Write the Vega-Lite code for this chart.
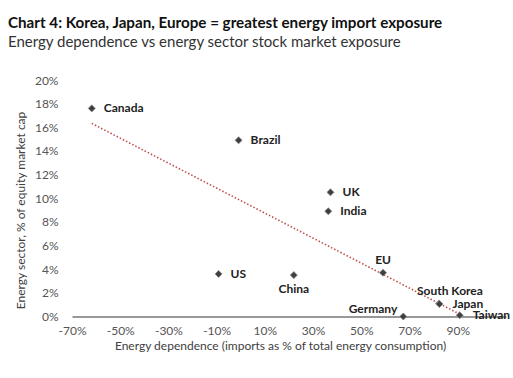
{
  "$schema": "https://vega.github.io/schema/vega-lite/v6.json",
  "autosize": "none",
  "width": 434,
  "height": 236.5,
  "padding": {"left": 72, "top": 80, "right": 7, "bottom": 61.5},
  "background": "white",
  "title": {
    "text": "Chart 4: Korea, Japan, Europe = greatest energy import exposure",
    "subtitle": "Energy dependence vs energy sector stock market exposure",
    "anchor": "start",
    "frame": "group",
    "dx": -64,
    "offset": 24,
    "font": "Lato",
    "fontSize": 15.2,
    "fontWeight": "bold",
    "color": "#111111",
    "subtitleFont": "Lato",
    "subtitleFontSize": 15,
    "subtitleColor": "#333333",
    "subtitlePadding": 4
  },
  "config": {
    "view": {"stroke": null},
    "axis": {
      "labelFont": "Lato",
      "labelFontSize": 12,
      "labelColor": "#555555",
      "titleFont": "Lato",
      "titleFontSize": 12,
      "titleFontWeight": "normal",
      "titleColor": "#404040",
      "grid": false,
      "ticks": false,
      "labelOverlap": false,
      "labelFlush": false
    }
  },
  "datasets": {
    "pts": [
      {"country": "Canada", "dep": -61.8, "energy": 17.6},
      {"country": "Brazil", "dep": -0.9, "energy": 14.9},
      {"country": "UK", "dep": 37.2, "energy": 10.5},
      {"country": "India", "dep": 36.3, "energy": 8.9},
      {"country": "US", "dep": -9.2, "energy": 3.6},
      {"country": "China", "dep": 22.0, "energy": 3.5},
      {"country": "EU", "dep": 59.0, "energy": 3.7},
      {"country": "South Korea", "dep": 82.2, "energy": 1.1},
      {"country": "Japan", "dep": 82.4, "energy": 1.05},
      {"country": "Germany", "dep": 67.4, "energy": 0.0},
      {"country": "Taiwan", "dep": 90.8, "energy": 0.1}
    ],
    "trend": [
      {"dep": -61.8, "energy": 16.33},
      {"dep": 90.8, "energy": 0.2}
    ]
  },
  "layer": [
    {
      "data": {"name": "trend"},
      "mark": {"type": "line", "color": "#c0504d", "strokeWidth": 1.6, "strokeDash": [1.5, 2]},
      "encoding": {
        "x": {
          "field": "dep", "type": "quantitative",
          "scale": {"domain": [-70, 110], "nice": false, "zero": false},
          "axis": {
            "values": [-70, -50, -30, -10, 10, 30, 50, 70, 90],
            "labelExpr": "datum.value + '%'",
            "labelOverlap": false,
            "domain": true, "domainColor": "#333333", "domainWidth": 1.2,
            "labelPadding": 9,
            "title": "Energy dependence (imports as % of total energy consumption)",
            "titleX": 208, "titleY": 33, "titleBaseline": "alphabetic", "titleAnchor": null,
            "offset": 0
          }
        },
        "y": {
          "field": "energy", "type": "quantitative",
          "scale": {"domain": [0, 20], "nice": false},
          "axis": {
            "values": [0, 2, 4, 6, 8, 10, 12, 14, 16, 18, 20],
            "labelExpr": "datum.value + '%'",
            "labelOverlap": false,
            "tickCount": 11,
            "domain": false,
            "labelPadding": 14,
            "title": "Energy sector, % of equity market cap",
            "titleX": -52, "titleY": 130, "titleBaseline": "middle", "titleAngle": -90, "titleAlign": "center"
          }
        }
      }
    },
    {
      "data": {"name": "pts"},
      "mark": {"type": "point", "shape": "diamond", "filled": true, "size": 50, "color": "#3f3f3f", "stroke": "#8a8a8a", "strokeWidth": 0.8, "opacity": 1},
      "encoding": {
        "x": {"field": "dep", "type": "quantitative"},
        "y": {"field": "energy", "type": "quantitative"}
      }
    },
    {
      "data": {"name": "pts"},
      "transform": [{"filter": "indexof(['Canada','Brazil','UK','India','US'], datum.country) >= 0"}],
      "mark": {"type": "text", "align": "left", "baseline": "middle", "dx": 12, "font": "Lato", "fontSize": 12, "fontWeight": "bold", "color": "#222222"},
      "encoding": {
        "x": {"field": "dep", "type": "quantitative"},
        "y": {"field": "energy", "type": "quantitative"},
        "text": {"field": "country"}
      }
    },
    {
      "data": {"name": "pts"},
      "transform": [{"filter": "indexof(['Japan','Taiwan'], datum.country) >= 0"}],
      "mark": {"type": "text", "align": "left", "baseline": "middle", "dx": 13, "font": "Lato", "fontSize": 12, "fontWeight": "bold", "color": "#222222"},
      "encoding": {
        "x": {"field": "dep", "type": "quantitative"},
        "y": {"field": "energy", "type": "quantitative"},
        "text": {"field": "country"}
      }
    },
    {
      "data": {"name": "pts"},
      "transform": [{"filter": "datum.country == 'China'"}],
      "mark": {"type": "text", "align": "center", "baseline": "middle", "dy": 14, "font": "Lato", "fontSize": 12, "fontWeight": "bold", "color": "#222222"},
      "encoding": {
        "x": {"field": "dep", "type": "quantitative"},
        "y": {"field": "energy", "type": "quantitative"},
        "text": {"field": "country"}
      }
    },
    {
      "data": {"name": "pts"},
      "transform": [{"filter": "datum.country == 'EU'"}],
      "mark": {"type": "text", "align": "center", "baseline": "middle", "dy": -13, "font": "Lato", "fontSize": 12, "fontWeight": "bold", "color": "#222222"},
      "encoding": {
        "x": {"field": "dep", "type": "quantitative"},
        "y": {"field": "energy", "type": "quantitative"},
        "text": {"field": "country"}
      }
    },
    {
      "data": {"name": "pts"},
      "transform": [{"filter": "datum.country == 'South Korea'"}],
      "mark": {"type": "text", "align": "left", "baseline": "middle", "dx": -22, "dy": -12, "font": "Lato", "fontSize": 12, "fontWeight": "bold", "color": "#222222"},
      "encoding": {
        "x": {"field": "dep", "type": "quantitative"},
        "y": {"field": "energy", "type": "quantitative"},
        "text": {"field": "country"}
      }
    },
    {
      "data": {"name": "pts"},
      "transform": [{"filter": "datum.country == 'Germany'"}],
      "mark": {"type": "text", "align": "right", "baseline": "middle", "dx": -6, "dy": -8, "font": "Lato", "fontSize": 12, "fontWeight": "bold", "color": "#222222"},
      "encoding": {
        "x": {"field": "dep", "type": "quantitative"},
        "y": {"field": "energy", "type": "quantitative"},
        "text": {"field": "country"}
      }
    }
  ]
}
